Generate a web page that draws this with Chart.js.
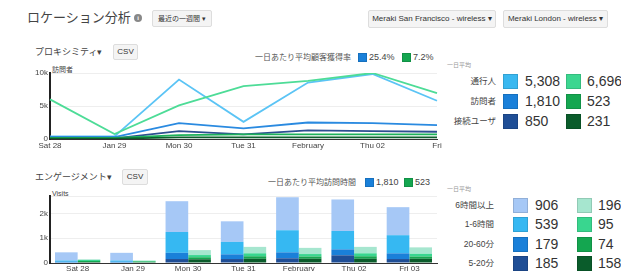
<!DOCTYPE html>
<html>
<head>
<meta charset="utf-8">
<script src="https://cdn.jsdelivr.net/npm/chart.js@4"></script>
<style>
body{margin:0;width:621px;height:271px;overflow:hidden;background:#fff;font-family:"Liberation Sans","Noto Sans CJK JP",sans-serif;color:#444;position:relative}
.a{position:absolute;white-space:nowrap}
.btn{position:absolute;background:#f4f4f4;border:1px solid #ddd;border-radius:2px;color:#333;text-align:center;box-sizing:border-box;white-space:nowrap}
.sw{position:absolute;box-sizing:border-box;border:1px solid rgba(0,0,0,0.12)}
canvas{position:absolute}
</style>
</head>
<body>
<div class="a" style="left:27px;top:8px;font-size:13px;line-height:20px;color:#444">ロケーション分析</div>
<div class="a" style="left:134px;top:14px;width:8px;height:8px;border-radius:50%;background:#888;color:#fff;font-size:6px;line-height:8px;text-align:center;font-weight:bold">i</div>
<div class="btn" style="left:152px;top:10px;width:60px;height:17px;font-size:7px;line-height:15px">最近の一週間 ▾</div>
<div class="btn" style="left:368px;top:10px;width:128px;height:18px;font-size:8px;line-height:16px">Meraki San Francisco - wireless ▾</div>
<div class="btn" style="left:503px;top:10px;width:105px;height:18px;font-size:8px;line-height:16px">Meraki London - wireless ▾</div>

<div class="a" style="left:35px;top:46px;font-size:9px;line-height:12px;color:#444">プロキシミティ▾</div>
<div class="btn" style="left:113px;top:44px;width:25px;height:16px;font-size:8px;line-height:14px">CSV</div>
<div class="a" style="left:255px;top:52px;font-size:8px;line-height:11px;color:#555">一日あたり平均顧客獲得率</div>
<div class="sw" style="left:358px;top:53px;width:9px;height:9px;background:#1a80d9"></div>
<div class="a" id="rateSf" style="left:369px;top:51px;font-size:9px;line-height:12px;color:#444"></div>
<div class="sw" style="left:402px;top:53px;width:9px;height:9px;background:#14a650"></div>
<div class="a" id="rateLdn" style="left:413px;top:51px;font-size:9px;line-height:12px;color:#444"></div>
<div class="a" style="left:52px;top:65px;font-size:7px;line-height:9px;color:#444">訪問者</div>

<div class="a" style="left:35px;top:171px;font-size:9px;line-height:12px;color:#444">エンゲージメント▾</div>
<div class="btn" style="left:122px;top:169px;width:26px;height:16px;font-size:8px;line-height:14px">CSV</div>
<div class="a" style="left:268px;top:177px;font-size:8px;line-height:11px;color:#555">一日あたり平均訪問時間</div>
<div class="sw" style="left:365px;top:178px;width:9px;height:9px;background:#1a80d9"></div>
<div class="a" id="timeSf" style="left:376px;top:176px;font-size:9px;line-height:12px;color:#444"></div>
<div class="sw" style="left:404px;top:178px;width:9px;height:9px;background:#14a650"></div>
<div class="a" id="timeLdn" style="left:415px;top:176px;font-size:9px;line-height:12px;color:#444"></div>
<div class="a" style="left:52px;top:189px;font-size:7px;line-height:9px;color:#444">Visits</div>

<div id="legendTop"></div>
<div id="legendBottom"></div>

<canvas id="lineChart" width="425" height="92" style="left:20px;top:62px"></canvas>
<canvas id="barChart" width="425" height="95" style="left:20px;top:186px"></canvas>

<script>
let lineLabels = ['Sat 28', 'Jan 29', 'Mon 30', 'Tue 31', 'February', 'Thu 02', 'Fri'];
let barLabels = ['Sat 28', 'Jan 29', 'Mon 30', 'Tue 31', 'February', 'Thu 02', 'Fri 03'];

// proximity (line chart)
let sfPassers = [400, 400, 9000, 2600, 8550, 9850, 5800];
let sfVisitors = [300, 300, 2400, 1600, 2500, 2400, 2100];
let sfConnected = [100, 100, 1200, 700, 1300, 1200, 1100];
let ldnPassers = [6000, 760, 5100, 8000, 8800, 10000, 6950];
let ldnVisitors = [150, 150, 600, 700, 700, 700, 700];
let ldnConnected = [50, 50, 250, 250, 250, 250, 250];
let lineTicks = [0, 5000, 10000];

// engagement (stacked bars)
let sfShort = [20, 20, 160, 160, 190, 310, 160];
let sfMid = [30, 30, 250, 190, 240, 240, 230];
let sfLong = [50, 50, 840, 500, 890, 740, 730];
let sfVeryLong = [330, 310, 1240, 830, 1330, 1270, 1130];
let ldnShort = [40, 30, 150, 170, 170, 170, 170];
let ldnMid = [40, 30, 80, 100, 90, 100, 90];
let ldnLong = [40, 25, 90, 120, 100, 120, 110];
let ldnVeryLong = [30, 15, 200, 260, 250, 260, 260];
let barTicks = [0, 1000, 2000];

// legend texts
let proxLabels = ['通行人', '訪問者', '接続ユーザ'];
let proxSf = ['5,308', '1,810', '850'];
let proxLdn = ['6,696', '523', '231'];
let engLabels = ['6時間以上', '1-6時間', '20-60分', '5-20分'];
let engSf = ['906', '539', '179', '185'];
let engLdn = ['196', '95', '74', '158'];
let rates = ['25.4%', '7.2%'];
let visitTimes = ['1,810', '523'];

let proxSfColors = ['#3ab8f0', '#1a80d9', '#1f4e96'];
let proxLdnColors = ['#3cd690', '#14a650', '#0a5c2b'];
let engSfColors = ['#a6c8f6', '#36b8f2', '#1a80d9', '#1f4e96'];
let engLdnColors = ['#a6e6cf', '#39d68f', '#14a650', '#0a5c2b'];

document.getElementById('rateSf').textContent = rates[0];
document.getElementById('rateLdn').textContent = rates[1];
document.getElementById('timeSf').textContent = visitTimes[0];
document.getElementById('timeLdn').textContent = visitTimes[1];

let buildLegend = (el, top, rowGap, labels, sf, ldn, sfCol, ldnCol, labelRight, sq1, sq2) => {
  let html = `<div class="a" style="left:447px;top:${top - 5}px;font-size:6px;line-height:8px;color:#999">一日平均</div>`;
  labels.forEach((lab, i) => {
    let y = top + 15 + i * rowGap;
    html += `<div class="a" style="left:${labelRight - 80}px;width:80px;text-align:right;top:${y - 6}px;font-size:8.5px;line-height:12px;color:#444">${lab}</div>`;
    html += `<div class="sw" style="left:${sq1}px;top:${y - 7}px;width:15px;height:15px;background:${sfCol[i]}"></div>`;
    html += `<div class="a" style="left:${sq1 + 22}px;top:${y - 9}px;font-size:14px;line-height:18px;color:#333">${sf[i]}</div>`;
    html += `<div class="sw" style="left:${sq2}px;top:${y - 7}px;width:15px;height:15px;background:${ldnCol[i]}"></div>`;
    html += `<div class="a" style="left:${sq2 + 21}px;top:${y - 9}px;font-size:14px;line-height:18px;color:#333">${ldn[i]}</div>`;
  });
  el.innerHTML = html;
};

buildLegend(document.getElementById('legendTop'), 66, 20, proxLabels, proxSf, proxLdn, proxSfColors, proxLdnColors, 496, 503, 566);
buildLegend(document.getElementById('legendBottom'), 190, 19.3, engLabels, engSf, engLdn, engSfColors, engLdnColors, 494, 513, 577);

let kFmt = (v) => v === 0 ? '0' : (v % 1000 === 0 ? v / 1000 + 'k' : '');
let tickFont = { size: 8, family: '"Liberation Sans", sans-serif' };

let lineDs = (data, color) => ({
  data: data,
  borderColor: color,
  borderWidth: 1.8,
  pointRadius: 0,
  tension: 0,
  fill: false,
});

let lineChart = new Chart(document.getElementById('lineChart'), {
  type: 'line',
  data: {
    labels: lineLabels,
    datasets: [
      lineDs(ldnConnected, '#0b5e2c'),
      lineDs(ldnVisitors, '#1db25a'),
      lineDs(sfConnected, '#2c4f8f'),
      lineDs(sfVisitors, '#2a8ae0'),
      lineDs(ldnPassers, '#4ddc97'),
      lineDs(sfPassers, '#5bc4f5'),
    ],
  },
  options: {
    responsive: false,
    animation: false,
    layout: { padding: { top: 11, right: 8, left: 0, bottom: 0 } },
    plugins: { legend: { display: false }, tooltip: { enabled: false } },
    scales: {
      x: {
        offset: false,
        grid: { display: false, drawTicks: false },
        border: { color: '#333', width: 1 },
        ticks: { autoSkip: false, maxRotation: 0, font: tickFont, color: '#444', padding: 2 },
        afterFit: (s) => { s.height = 15; },
      },
      y: {
        min: 0,
        max: 10000,
        afterBuildTicks: (s) => { s.ticks = lineTicks.map((v) => ({ value: v })); },
        ticks: { callback: kFmt, font: tickFont, color: '#444', padding: 2 },
        border: { color: '#222', width: 2 },
        grid: { color: '#eee', drawTicks: false },
        afterFit: (s) => { s.width = 30; },
      },
    },
  },
});

let barDs = (data, color, stack) => ({
  data: data,
  backgroundColor: color,
  stack: stack,
  borderWidth: 0,
  categoryPercentage: 0.82,
  barPercentage: 1,
});

let barChart = new Chart(document.getElementById('barChart'), {
  type: 'bar',
  data: {
    labels: barLabels,
    datasets: [
      barDs(sfShort, engSfColors[3], 'sf'),
      barDs(sfMid, engSfColors[2], 'sf'),
      barDs(sfLong, engSfColors[1], 'sf'),
      barDs(sfVeryLong, engSfColors[0], 'sf'),
      barDs(ldnShort, engLdnColors[3], 'ldn'),
      barDs(ldnMid, engLdnColors[2], 'ldn'),
      barDs(ldnLong, engLdnColors[1], 'ldn'),
      barDs(ldnVeryLong, engLdnColors[0], 'ldn'),
    ],
  },
  options: {
    responsive: false,
    animation: false,
    layout: { padding: { top: 10, right: 8, left: 0, bottom: 0 } },
    plugins: { legend: { display: false }, tooltip: { enabled: false } },
    scales: {
      x: {
        stacked: true,
        grid: { display: false, drawTicks: false },
        border: { color: '#333', width: 1 },
        ticks: { autoSkip: false, maxRotation: 0, font: tickFont, color: '#444', padding: 1 },
        afterFit: (s) => { s.height = 18; },
      },
      y: {
        stacked: true,
        min: 0,
        max: 2700,
        afterBuildTicks: (s) => { s.ticks = barTicks.concat([2700]).map((v) => ({ value: v })); },
        ticks: { callback: kFmt, font: tickFont, color: '#444', padding: 2 },
        border: { color: '#222', width: 2 },
        grid: { color: '#eee', drawTicks: false },
        afterFit: (s) => { s.width = 30; },
      },
    },
  },
});
</script>
</body>
</html>
